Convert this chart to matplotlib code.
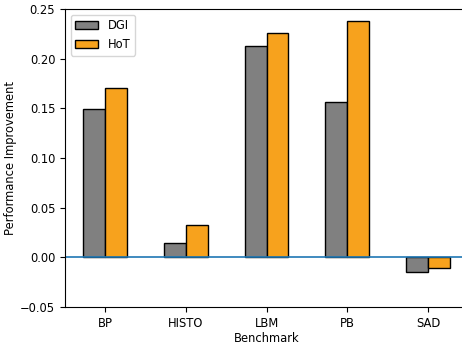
import matplotlib
matplotlib.use("Agg")
import matplotlib.pyplot as plt
import numpy as np

benchmarks = ["BP", "HISTO", "LBM", "PB", "SAD"]
dgi = [0.149, 0.014, 0.213, 0.156, -0.015]
hot = [0.170, 0.033, 0.226, 0.238, -0.011]

fs = 8.3
fig = plt.figure(figsize=(4.62, 3.44), dpi=100)
ax = fig.add_axes([65/462, 1 - 307/344, 403/462, 298/344])

x = np.arange(len(benchmarks))
w = 0.27
ax.bar(x - w/2, dgi, w, color="gray", edgecolor="black", linewidth=1, label="DGI")
ax.bar(x + w/2, hot, w, color="#f7a21d", edgecolor="black", linewidth=1, label="HoT")
ax.axhline(0, color="C0", linewidth=1.2)

ax.set_ylim(-0.05, 0.25)
ax.set_xticks(x)
ax.set_xticklabels(benchmarks)
ax.tick_params(labelsize=fs)
ax.set_xlabel("Benchmark", fontsize=fs, labelpad=2)
ax.set_ylabel("Performance Improvement", fontsize=fs, labelpad=2)
ax.legend(loc="upper left", fontsize=fs)

fig.savefig("out.png", dpi=100)
